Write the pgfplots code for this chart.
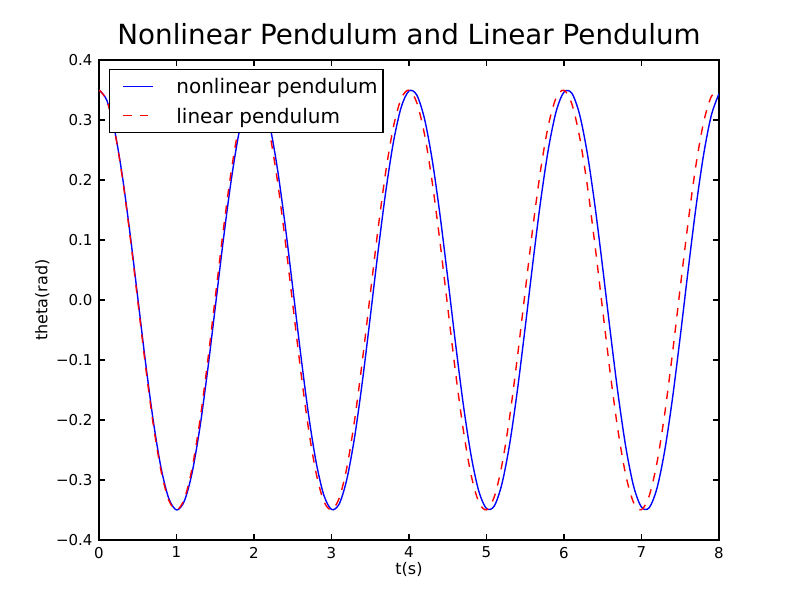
\documentclass[border=0pt]{standalone}
\usepackage{fontspec}
\setmainfont{DejaVu Sans}
\usepackage{pgfplots}
\pgfplotsset{compat=1.18}
\begin{document}
\begin{tikzpicture}
\useasboundingbox (0,0) rectangle (600pt,450pt);
\begin{axis}[
  at={(74.25pt,45pt)}, anchor=south west,
  scale only axis, width=465pt, height=360pt,
  xmin=0, xmax=8, ymin=-0.4, ymax=0.4,
  axis line style={line width=1pt},
  tick align=inside, major tick length=4.2pt,
  tick style={line width=0.8pt, black},
  xtick={0,1,2,3,4,5,6,7,8}, xticklabels={0,1,2,3,4,5,6,7,8},
  ytick={-0.4,-0.3,-0.2,-0.1,0,0.1,0.2,0.3,0.4},
  yticklabels={−0.4,−0.3,−0.2,−0.1,0.0,0.1,0.2,0.3,0.4},
  ticklabel style={font=\fontsize{11.25}{13}\selectfont},
  xticklabel style={inner sep=0pt, anchor=north, yshift=-5pt},
  yticklabel style={inner sep=0pt, anchor=east, xshift=-4.7pt},
  title={Nonlinear Pendulum and Linear Pendulum},
  title style={at={(axis description cs:0.5,1.0146)}, anchor=base, yshift=0pt, inner sep=0pt, font=\fontsize{20.8}{24}\selectfont},
  xlabel={t(s)},
  xlabel style={at={(axis description cs:0.5,-0.0729)}, anchor=base, inner sep=0pt, font=\fontsize{12}{14}\selectfont},
  ylabel={theta(rad)},
  ylabel style={at={(axis description cs:-0.0831,0.5)}, anchor=base, inner sep=0pt, font=\fontsize{12}{14}\selectfont},
  legend style={at={(0.0161,0.98125)}, anchor=north west, draw=black, line width=1pt, fill=white,
    inner xsep=4pt, inner ysep=1.5pt, row sep=0pt, column sep=0pt,
    font=\fontsize{15}{18}\selectfont,
    nodes={inner sep=0pt, text height=16.5pt, text depth=5.5pt}},
  legend cell align=left,
  legend image code/.code={\path[draw=none] (-6.3pt,0pt) -- (39.75pt,0pt); \draw[#1] (0pt,0pt) -- (22.5pt,0pt);},
]
\addplot[blue, line width=1.04pt, smooth] coordinates {
(0,0.3500) (0.1,0.3331) (0.2,0.2841) (0.3,0.2077) (0.4,0.1113) (0.5,0.0041) (0.6,-0.1035) (0.7,-0.2011) (0.8,-0.2793) (0.9,-0.3305)
(1.0,-0.3499) (1.1,-0.3355) (1.2,-0.2888) (1.3,-0.2142) (1.4,-0.1190) (1.5,-0.0123) (1.6,0.0956) (1.7,0.1943) (1.8,0.2743) (1.9,0.3278)
(2.0,0.3496) (2.1,0.3378) (2.2,0.2934) (2.3,0.2207) (2.4,0.1267) (2.5,0.0205) (2.6,-0.0877) (2.7,-0.1875) (2.8,-0.2691) (2.9,-0.3248)
(3.0,-0.3491) (3.1,-0.3398) (3.2,-0.2977) (3.3,-0.2270) (3.4,-0.1343) (3.5,-0.0286) (3.6,0.0798) (3.7,0.1805) (3.8,0.2638) (3.9,0.3216)
(4.0,0.3485) (4.1,0.3417) (4.2,0.3020) (4.3,0.2331) (4.4,0.1418) (4.5,0.0368) (4.6,-0.0718) (4.7,-0.1734) (4.8,-0.2583) (4.9,-0.3183)
(5.0,-0.3476) (5.1,-0.3434) (5.2,-0.3060) (5.3,-0.2392) (5.4,-0.1492) (5.5,-0.0449) (5.6,0.0638) (5.7,0.1663) (5.8,0.2527) (5.9,0.3148)
(6.0,0.3466) (6.1,0.3449) (6.2,0.3099) (6.3,0.2451) (6.4,0.1566) (6.5,0.0530) (6.6,-0.0557) (6.7,-0.1590) (6.8,-0.2470) (6.9,-0.3112)
(7.0,-0.3453) (7.1,-0.3462) (7.2,-0.3136) (7.3,-0.2508) (7.4,-0.1639) (7.5,-0.0611) (7.6,0.0476) (7.7,0.1517) (7.8,0.2411) (7.9,0.3073)
(8.0,0.3439)
};
\addlegendentry{nonlinear pendulum}
\addplot[red, line width=1.04pt, smooth, dash pattern=on 6.25pt off 6.25pt] coordinates {
(0,0.3500) (0.1,0.3328) (0.2,0.2828) (0.3,0.2051) (0.4,0.1071) (0.5,-0.0014) (0.6,-0.1097) (0.7,-0.2073) (0.8,-0.2844) (0.9,-0.3336)
(1.0,-0.3500) (1.1,-0.3319) (1.2,-0.2812) (1.3,-0.2028) (1.4,-0.1045) (1.5,0.0041) (1.6,0.1123) (1.7,0.2095) (1.8,0.2861) (1.9,0.3345)
(2.0,0.3500) (2.1,0.3310) (2.2,0.2796) (2.3,0.2006) (2.4,0.1019) (2.5,-0.0069) (2.6,-0.1149) (2.7,-0.2117) (2.8,-0.2876) (2.9,-0.3353)
(3.0,-0.3499) (3.1,-0.3301) (3.2,-0.2779) (3.3,-0.1983) (3.4,-0.0992) (3.5,0.0096) (3.6,0.1175) (3.7,0.2139) (3.8,0.2892) (3.9,0.3360)
(4.0,0.3498) (4.1,0.3292) (4.2,0.2762) (4.3,0.1960) (4.4,0.0966) (4.5,-0.0124) (4.6,-0.1201) (4.7,-0.2160) (4.8,-0.2907) (4.9,-0.3368)
(5.0,-0.3497) (5.1,-0.3283) (5.2,-0.2745) (5.3,-0.1938) (5.4,-0.0939) (5.5,0.0151) (5.6,0.1227) (5.7,0.2182) (5.8,0.2922) (5.9,0.3375)
(6.0,0.3496) (6.1,0.3273) (6.2,0.2728) (6.3,0.1915) (6.4,0.0913) (6.5,-0.0179) (6.6,-0.1253) (6.7,-0.2203) (6.8,-0.2937) (6.9,-0.3382)
(7.0,-0.3495) (7.1,-0.3263) (7.2,-0.2711) (7.3,-0.1892) (7.4,-0.0886) (7.5,0.0206) (7.6,0.1278) (7.7,0.2225) (7.8,0.2952) (7.9,0.3389)
(8.0,0.3493)
};
\addlegendentry{linear pendulum}
\end{axis}
\end{tikzpicture}
\end{document}
